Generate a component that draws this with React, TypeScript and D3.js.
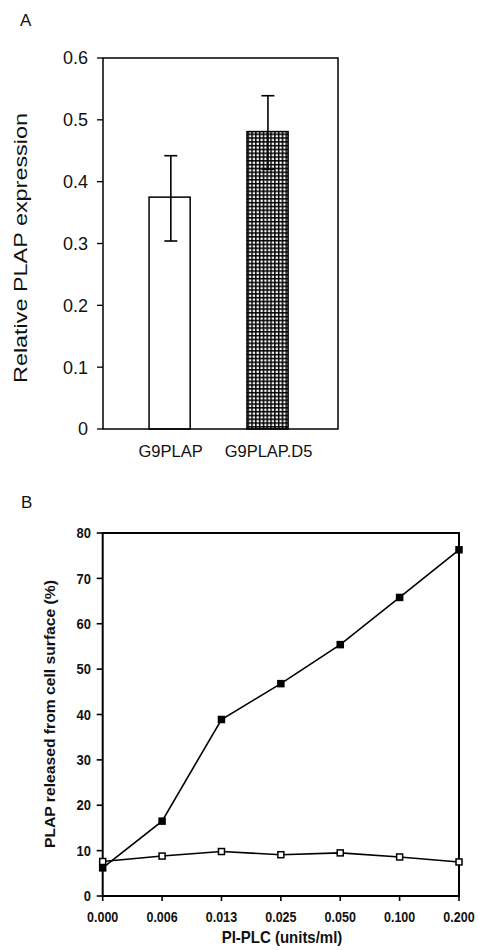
import React from "react";
import * as d3 from "d3";

const categoriesA = ["G9PLAP", "G9PLAP.D5"];
const meansA = [0.375, 0.481];
const lowerA = [0.304, 0.42];
const upperA = [0.442, 0.539];
const ticksA = [0, 0.1, 0.2, 0.3, 0.4, 0.5, 0.6];

const doses = ["0.000", "0.006", "0.013", "0.025", "0.050", "0.100", "0.200"];
const filledSeries = [6.2, 16.5, 38.9, 46.8, 55.4, 65.8, 76.3];
const openSeries = [7.6, 8.8, 9.8, 9.1, 9.5, 8.6, 7.5];
const ticksB = [0, 10, 20, 30, 40, 50, 60, 70, 80];

const FONT = "'Liberation Sans', Arial, Helvetica, sans-serif";

export default function App() {
  // Panel A geometry
  const aL = 103, aR = 338, aT = 58, aB = 429;
  const yA = d3.scaleLinear().domain([0, 0.6]).range([aB, aT]);
  const xA = d3
    .scaleBand()
    .domain(categoriesA)
    .range([aL, aR])
    .paddingInner(0.58)
    .paddingOuter(0.49)
    .align(0.48);

  // Panel B geometry
  const bL = 102.7, bR = 459, bT = 533, bB = 896;
  const yB = d3.scaleLinear().domain([0, 80]).range([bB, bT]);
  const xB = d3.scalePoint().domain(doses).range([bL, bR]);
  const line = d3
    .line<number>()
    .x((_, i) => xB(doses[i]) as number)
    .y((d) => yB(d));

  const ms = 7.5;

  return (
    <div style={{ position: "absolute", left: 0, top: 0 }}>
      <svg width={478} height={950} style={{ display: "block", background: "#fff" }} fontFamily={FONT}>
        <defs>
          <pattern id="grid" width={3.8} height={3.8} patternUnits="userSpaceOnUse" x={0.5} y={0.5}>
            <rect width={3.8} height={3.8} fill="#fff" />
            <rect x={0} y={0} width={1.5} height={3.8} fill="#000" />
            <rect x={0} y={0} width={3.8} height={1.5} fill="#000" />
          </pattern>
        </defs>
        <rect width={478} height={950} fill="#fff" />

        {/* Panel A */}
        <text x={20} y={26} fontSize={17} fill="#111">A</text>
        {categoriesA.map((c, i) => {
          const x0 = xA(c) as number;
          const w = xA.bandwidth();
          return (
            <rect
              key={c}
              x={x0}
              y={yA(meansA[i])}
              width={w}
              height={aB - yA(meansA[i])}
              fill={i === 0 ? "#fff" : "url(#grid)"}
              stroke="#000"
              strokeWidth={1.5}
            />
          );
        })}
        {categoriesA.map((c, i) => {
          const cx = (xA(c) as number) + xA.bandwidth() / 2 + (i === 0 ? 1.2 : 0.4);
          return (
            <g key={c + "e"} stroke="#000" strokeWidth={1.6}>
              <line x1={cx} x2={cx} y1={yA(lowerA[i])} y2={yA(upperA[i])} />
              <line x1={cx - 6.5} x2={cx + 6.5} y1={yA(lowerA[i])} y2={yA(lowerA[i])} />
              <line x1={cx - 6.5} x2={cx + 6.5} y1={yA(upperA[i])} y2={yA(upperA[i])} />
            </g>
          );
        })}
        <rect x={aL} y={aT} width={aR - aL} height={aB - aT} fill="none" stroke="#000" strokeWidth={1.5} />
        {ticksA.map((t) => (
          <g key={"ta" + t}>
            <line x1={aL - 6} x2={aL} y1={yA(t)} y2={yA(t)} stroke="#000" strokeWidth={1.3} />
            <text x={88} y={yA(t)} dy="0.36em" textAnchor="end" fontSize={18} fill="#111">
              {t === 0 ? "0" : t.toFixed(1)}
            </text>
          </g>
        ))}
        {categoriesA.map((c) => (
          <text
            key={c + "l"}
            x={(xA(c) as number) + xA.bandwidth() / 2 + 1}
            y={456.5}
            textAnchor="middle"
            fontSize={16.5}
            fill="#111"
          >
            {c}
          </text>
        ))}
        <text
          transform={`translate(27,248) rotate(-90)`}
          textAnchor="middle"
          fontSize={17.5}
          textLength={270}
          lengthAdjust="spacingAndGlyphs"
          fill="#111"
        >
          Relative PLAP expression
        </text>

        {/* Panel B */}
        <text x={21} y={508} fontSize={17} fill="#111">B</text>
        <path d={line(filledSeries) ?? ""} fill="none" stroke="#000" strokeWidth={1.6} />
        <path d={line(openSeries) ?? ""} fill="none" stroke="#000" strokeWidth={1.6} />
        <rect x={bL} y={bT} width={bR - bL} height={bB - bT} fill="none" stroke="#000" strokeWidth={2} />
        {ticksB.map((t) => (
          <g key={"tb" + t}>
            <line x1={bL - 6} x2={bL} y1={yB(t)} y2={yB(t)} stroke="#000" strokeWidth={1.6} />
            <text
              transform={`translate(91,${yB(t)}) scale(1,1.1)`}
              dy="0.36em"
              textAnchor="end"
              fontSize={13}
              fontWeight="bold"
              fill="#111"
            >
              {t}
            </text>
          </g>
        ))}
        {doses.map((d) => (
          <g key={"xb" + d}>
            <line x1={xB(d)} x2={xB(d)} y1={bB} y2={bB + 5} stroke="#000" strokeWidth={1.6} />
            <text
              transform={`translate(${xB(d)},921.5) scale(1,1.18)`}
              textAnchor="middle"
              fontSize={12.5}
              fontWeight="bold"
              fill="#111"
            >
              {d}
            </text>
          </g>
        ))}
        {filledSeries.map((v, i) => (
          <rect
            key={"f" + i}
            x={(xB(doses[i]) as number) - ms / 2}
            y={yB(v) - ms / 2}
            width={ms}
            height={ms}
            fill="#000"
          />
        ))}
        {openSeries.map((v, i) => (
          <rect
            key={"o" + i}
            x={(xB(doses[i]) as number) - (ms - 1.5) / 2}
            y={yB(v) - (ms - 1.5) / 2}
            width={ms - 1.5}
            height={ms - 1.5}
            fill="#fff"
            stroke="#000"
            strokeWidth={1.5}
          />
        ))}
        <text
          transform="translate(282,943) scale(1,1.1)"
          textAnchor="middle"
          fontSize={15}
          fontWeight="bold"
          fill="#111"
        >
          PI-PLC (units/ml)
        </text>
        <text
          transform={`translate(54.5,714) rotate(-90)`}
          textAnchor="middle"
          fontSize={15}
          fontWeight="bold"
          textLength={268}
          lengthAdjust="spacingAndGlyphs"
          fill="#111"
        >
          PLAP released from cell surface (%)
        </text>
      </svg>
    </div>
  );
}
